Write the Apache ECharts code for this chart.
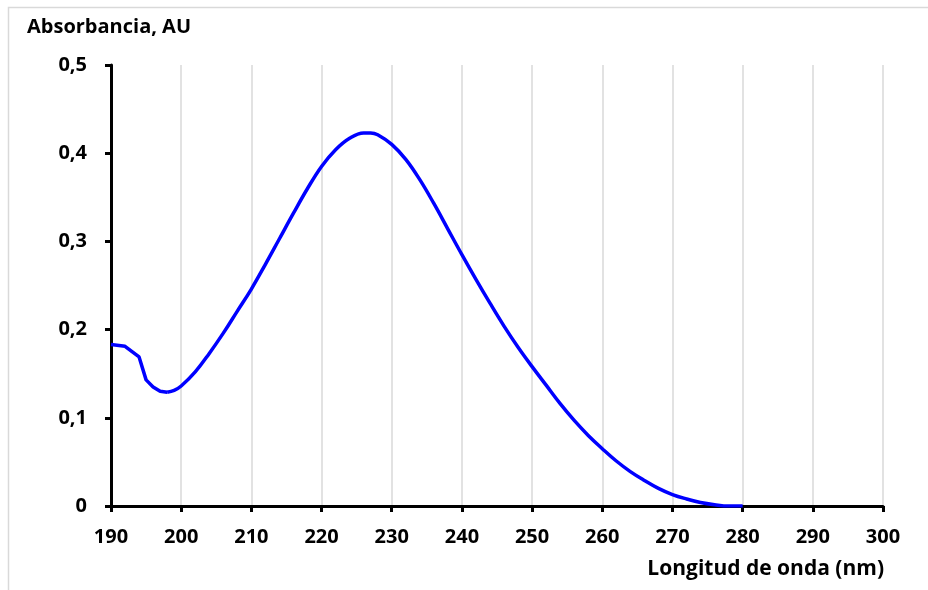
<!DOCTYPE html>
<html>
<head>
<meta charset="utf-8">
<script src="https://cdn.jsdelivr.net/npm/echarts@6/dist/echarts.min.js"></script>
<style>
  html, body { margin: 0; padding: 0; background: #fff; }
  #chart { width: 928px; height: 590px; }
</style>
</head>
<body>
<div id="chart"></div>
<script>
// longitud de onda (nm) y absorbancia leidas de la figura
// tramo inicial (segmentos rectos)
var wavelengthsStart = [190, 192, 194, 195, 196, 197, 198];
var absorbanceStart = [0.183, 0.181, 0.169, 0.143, 0.135, 0.130, 0.129];
// tramo principal (curva suave)
var wavelengthsMain = [198, 199, 200, 202, 204, 206, 208, 210,
  212, 214, 216, 218, 220, 222, 224, 226, 227, 228, 230, 232, 234, 236, 238, 240,
  242, 244, 246, 248, 250, 252, 254, 256, 258, 260, 262, 264, 266, 268, 270,
  272, 274, 276, 278, 280];
var absorbanceMain = [0.129, 0.131, 0.136, 0.152, 0.173, 0.196, 0.221, 0.246,
  0.274, 0.303, 0.332, 0.360, 0.385, 0.404, 0.417, 0.423, 0.423, 0.421, 0.410, 0.393, 0.370, 0.343, 0.314, 0.285,
  0.257, 0.230, 0.204, 0.180, 0.158, 0.137, 0.116, 0.097, 0.080, 0.065, 0.051, 0.039, 0.029, 0.020, 0.013,
  0.008, 0.004, 0.0015, 0, 0];

var font = '"Open Sans", sans-serif';
var chart = echarts.init(document.getElementById('chart'));

function pairs(xs, ys) {
  var out = [];
  for (var i = 0; i < xs.length; i++) out.push([xs[i], ys[i]]);
  return out;
}

var lineStyle = { color: '#0000ff', width: 3.5 };

var option = {
  animation: false,
  grid: { left: 111, right: 45, top: 65, bottom: 84 },
  graphic: [
    {
      type: 'rect',
      shape: { x: 8.5, y: 7.5, width: 1000, height: 1000 },
      style: { fill: 'none', stroke: '#d9d9d9', lineWidth: 1.5 },
      silent: true
    },
    {
      type: 'text',
      left: 27, top: 17,
      style: { text: 'Absorbancia, AU', font: 'bold 20px ' + font, fill: '#000' }
    },
    {
      type: 'text',
      right: 44, top: 559,
      style: { text: 'Longitud de onda (nm)', font: 'bold 21px ' + font, fill: '#000' }
    }
  ],
  xAxis: {
    type: 'value',
    min: 190, max: 300, interval: 10,
    axisLine: { lineStyle: { color: '#000', width: 3 } },
    axisTick: { show: true, length: 6, lineStyle: { color: '#000', width: 3 } },
    axisLabel: { margin: 21, fontFamily: font, fontWeight: 'bold', fontSize: 20, color: '#000' },
    splitLine: { show: true, lineStyle: { color: '#d9d9d9', width: 1.5 } }
  },
  yAxis: {
    type: 'value',
    min: 0, max: 0.5, interval: 0.1,
    axisLine: { show: true, lineStyle: { color: '#000', width: 3 } },
    axisTick: { show: true, length: 6, lineStyle: { color: '#000', width: 3 } },
    axisLabel: {
      margin: 24, fontFamily: font, fontWeight: 'bold', fontSize: 20, color: '#000',
      formatter: function (v) { return v === 0 ? '0' : v.toFixed(1).replace('.', ','); }
    },
    splitLine: { show: false }
  },
  series: [
    {
      type: 'line',
      data: pairs(wavelengthsStart, absorbanceStart),
      showSymbol: false,
      lineStyle: lineStyle,
      z: 3
    },
    {
      type: 'line',
      data: pairs(wavelengthsMain, absorbanceMain),
      showSymbol: false,
      smooth: 0.4,
      lineStyle: lineStyle,
      z: 3
    }
  ]
};
chart.setOption(option);
</script>
</body>
</html>
